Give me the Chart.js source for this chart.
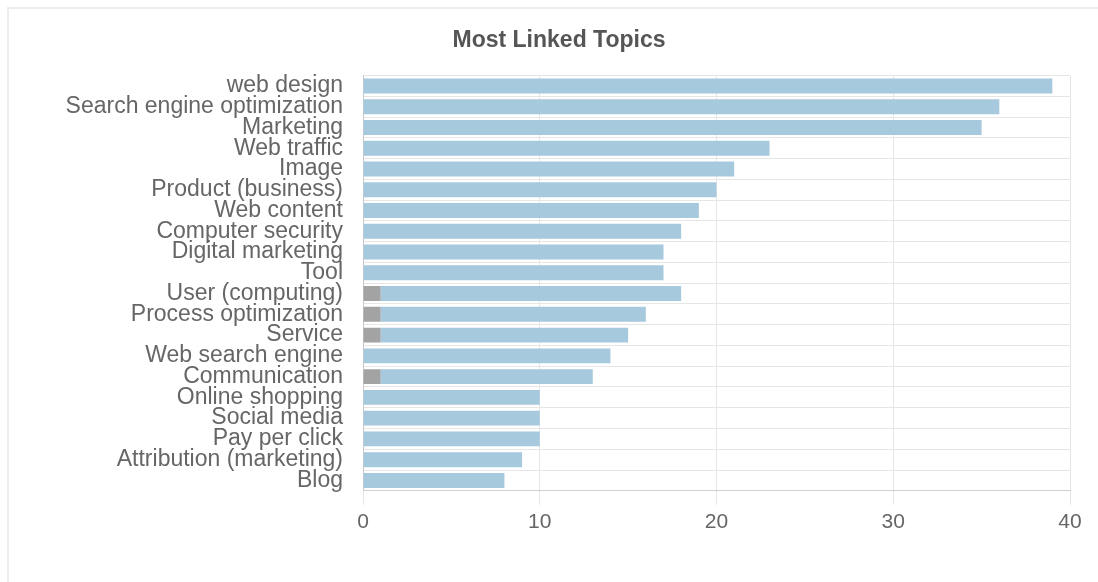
<!DOCTYPE html>
<html>
<head>
<meta charset="utf-8">
<script src="https://cdn.jsdelivr.net/npm/chart.js@4"></script>
<style>
  html, body { margin: 0; padding: 0; background: #fff; }
  #frame { position: absolute; left: 7px; top: 7px; width: 1200px; height: 700px; border: 2px solid #ececec; box-sizing: border-box; }
  #wrap { position: absolute; left: 0; top: 0; width: 1098px; height: 582px; }
</style>
</head>
<body>
<div id="frame"></div>
<div id="wrap"><canvas id="chart"></canvas></div>
<script>
// --- Data ---
const topics = [
  'web design', 'Search engine optimization', 'Marketing', 'Web traffic', 'Image',
  'Product (business)', 'Web content', 'Computer security', 'Digital marketing', 'Tool',
  'User (computing)', 'Process optimization', 'Service', 'Web search engine', 'Communication',
  'Online shopping', 'Social media', 'Pay per click', 'Attribution (marketing)', 'Blog'
];
const grayCounts = [0, 0, 0, 0, 0, 0, 0, 0, 0, 0, 1, 1, 1, 0, 1, 0, 0, 0, 0, 0];
const blueCounts = [39, 36, 35, 23, 21, 20, 19, 18, 17, 17, 17, 15, 14, 14, 12, 10, 10, 10, 9, 8];
const xTicks = [0, 10, 20, 30, 40];

const textColor = '#666';
const fontFamily = '"Liberation Sans", Arial, sans-serif';

const ctx = document.getElementById('chart').getContext('2d');
new Chart(ctx, {
  type: 'bar',
  data: {
    labels: topics,
    datasets: [
      { label: 'other', data: grayCounts, backgroundColor: '#a3a3a3' },
      { label: 'links', data: blueCounts, backgroundColor: '#a6c9dd' }
    ]
  },
  options: {
    indexAxis: 'y',
    responsive: true,
    maintainAspectRatio: false,
    animation: false,
    layout: { padding: { left: 48, right: 28, top: 0, bottom: 42 } },
    plugins: {
      legend: { display: false },
      tooltip: { enabled: false },
      title: {
        display: true,
        text: 'Most Linked Topics',
        color: '#555',
        font: { family: fontFamily, size: 23, weight: 'bold' },
        padding: { top: 27, bottom: 21 }
      }
    },
    scales: {
      x: {
        stacked: true,
        min: 0,
        max: 40,
        afterBuildTicks: axis => { axis.ticks = xTicks.map(v => ({ value: v })); },
        grid: { color: '#e6e6e6', tickLength: 14 },
        border: { color: '#d0d0d0' },
        ticks: { color: textColor, padding: 5, font: { family: fontFamily, size: 21 } }
      },
      y: {
        stacked: true,
        afterFit: axis => { axis.width = 315; },
        grid: { color: '#e6e6e6', offset: true, drawTicks: false },
        border: { color: '#c8c8c8' },
        ticks: { color: textColor, padding: 20, autoSkip: false, font: { family: fontFamily, size: 23 } }
      }
    }
  }
});
</script>
</body>
</html>
